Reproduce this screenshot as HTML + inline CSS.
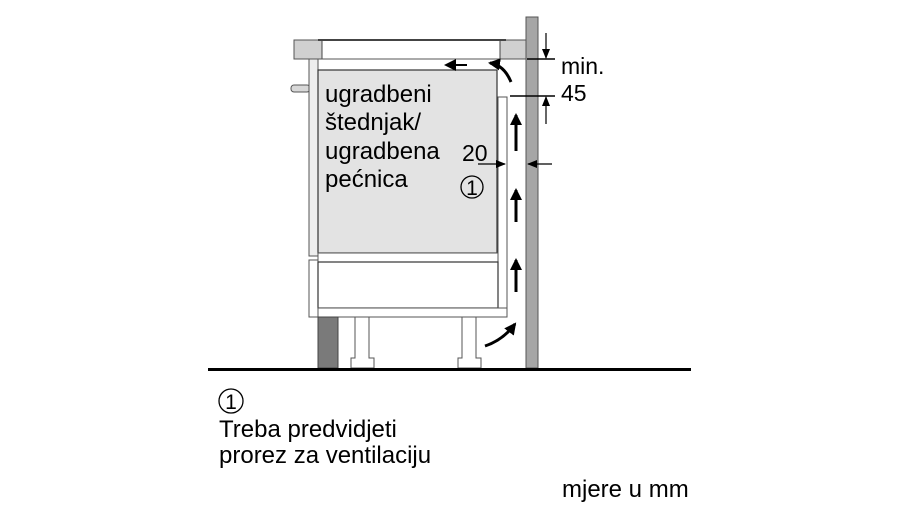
<!DOCTYPE html>
<html><head><meta charset="utf-8"><style>
html,body{margin:0;padding:0;background:#fff;width:900px;height:506px;overflow:hidden}
svg{display:block}
text{font-family:"Liberation Sans",Arial,sans-serif;fill:#000}
</style></head><body>
<svg width="900" height="506" viewBox="0 0 900 506" xmlns="http://www.w3.org/2000/svg">
<defs>
<marker id="ah" markerWidth="10" markerHeight="8" refX="9" refY="4" orient="auto" markerUnits="userSpaceOnUse"><path d="M0,0 L10,4 L0,8 Z" fill="#000"/></marker>
<marker id="ab" markerWidth="12" markerHeight="12" refX="10" refY="6" orient="auto" markerUnits="userSpaceOnUse"><path d="M0,0 L12,6 L0,12 Z" fill="#000"/></marker>
</defs>
<rect x="526" y="17" width="12" height="351" fill="#a6a6a6" stroke="#555" stroke-width="1"/>
<rect x="294" y="40" width="30" height="19" fill="#d0d0d0" stroke="#555"/>
<rect x="500" y="40" width="26" height="19" fill="#d0d0d0" stroke="#555"/>
<rect x="322" y="40" width="178" height="19" fill="#fff" stroke="#444"/>
<line x1="318" y1="40" x2="506" y2="40" stroke="#444" stroke-width="2"/>
<rect x="291" y="85" width="19" height="7" rx="3" fill="#d8d8d8" stroke="#555"/>
<rect x="309" y="59" width="9" height="197" fill="#eee" stroke="#555"/>
<rect x="309" y="260" width="9" height="57" fill="#fff" stroke="#555"/>
<rect x="318" y="70" width="179" height="183" fill="#e3e3e3" stroke="#333" stroke-width="1.2"/>
<line x1="318" y1="59" x2="498" y2="59" stroke="#555"/>
<rect x="498" y="97" width="9" height="219" fill="#fff" stroke="#555"/>
<rect x="318" y="253" width="180" height="9" fill="#fff" stroke="#555"/>
<rect x="318" y="262" width="180" height="46" fill="#fff" stroke="#333" stroke-width="1.2"/>
<rect x="318" y="308" width="189" height="9" fill="#fff" stroke="#555"/>
<rect x="318" y="317" width="20" height="51" fill="#7a7a7a" stroke="#444"/>
<path d="M355,317 H369 V358 H374 V368 H351 V358 H355 Z" fill="#fff" stroke="#555"/>
<path d="M462,317 H476 V358 H481 V368 H458 V358 H462 Z" fill="#fff" stroke="#555"/>
<line x1="208" y1="369.5" x2="691" y2="369.5" stroke="#000" stroke-width="3"/>
<line x1="516" y1="151" x2="516" y2="115" stroke="#000" stroke-width="3" marker-end="url(#ab)"/>
<line x1="516" y1="222" x2="516" y2="190" stroke="#000" stroke-width="3" marker-end="url(#ab)"/>
<line x1="516" y1="292" x2="516" y2="260" stroke="#000" stroke-width="3" marker-end="url(#ab)"/>
<line x1="467" y1="65" x2="446" y2="65" stroke="#000" stroke-width="2" marker-end="url(#ab)"/>
<path d="M511,82 Q504,65 490,63" fill="none" stroke="#000" stroke-width="3" marker-end="url(#ab)"/>
<path d="M485,346 Q503,340 515,324" fill="none" stroke="#000" stroke-width="3" marker-end="url(#ab)"/>
<line x1="527" y1="59" x2="555" y2="59" stroke="#000" stroke-width="1.5"/>
<line x1="510" y1="96" x2="555" y2="96" stroke="#000" stroke-width="1.5"/>
<line x1="546" y1="33" x2="546" y2="58" stroke="#000" stroke-width="1.2" marker-end="url(#ah)"/>
<line x1="546" y1="124" x2="546" y2="97" stroke="#000" stroke-width="1.2" marker-end="url(#ah)"/>
<line x1="478" y1="164" x2="505" y2="164" stroke="#000" stroke-width="1.2" marker-end="url(#ah)"/>
<line x1="552" y1="164" x2="528" y2="164" stroke="#000" stroke-width="1.2" marker-end="url(#ah)"/>
<text x="561" y="74" font-size="23">min.</text>
<text x="561" y="101" font-size="23">45</text>
<text x="462" y="161" font-size="23">20</text>
<text x="325" y="102" font-size="24">ugradbeni</text>
<text x="325" y="130" font-size="24">štednjak/</text>
<text x="325" y="159" font-size="24">ugradbena</text>
<text x="325" y="187" font-size="24">pećnica</text>
<circle cx="472" cy="187" r="11" fill="none" stroke="#000" stroke-width="1.3"/>
<text x="472" y="195" font-size="21" text-anchor="middle">1</text>
<circle cx="231" cy="401" r="12" fill="none" stroke="#000" stroke-width="1.3"/>
<text x="231" y="409" font-size="21" text-anchor="middle">1</text>
<text x="219" y="437" font-size="24">Treba predvidjeti</text>
<text x="219" y="463" font-size="24">prorez za ventilaciju</text>
<text x="562" y="497" font-size="24">mjere u mm</text>
</svg>
</body></html>
